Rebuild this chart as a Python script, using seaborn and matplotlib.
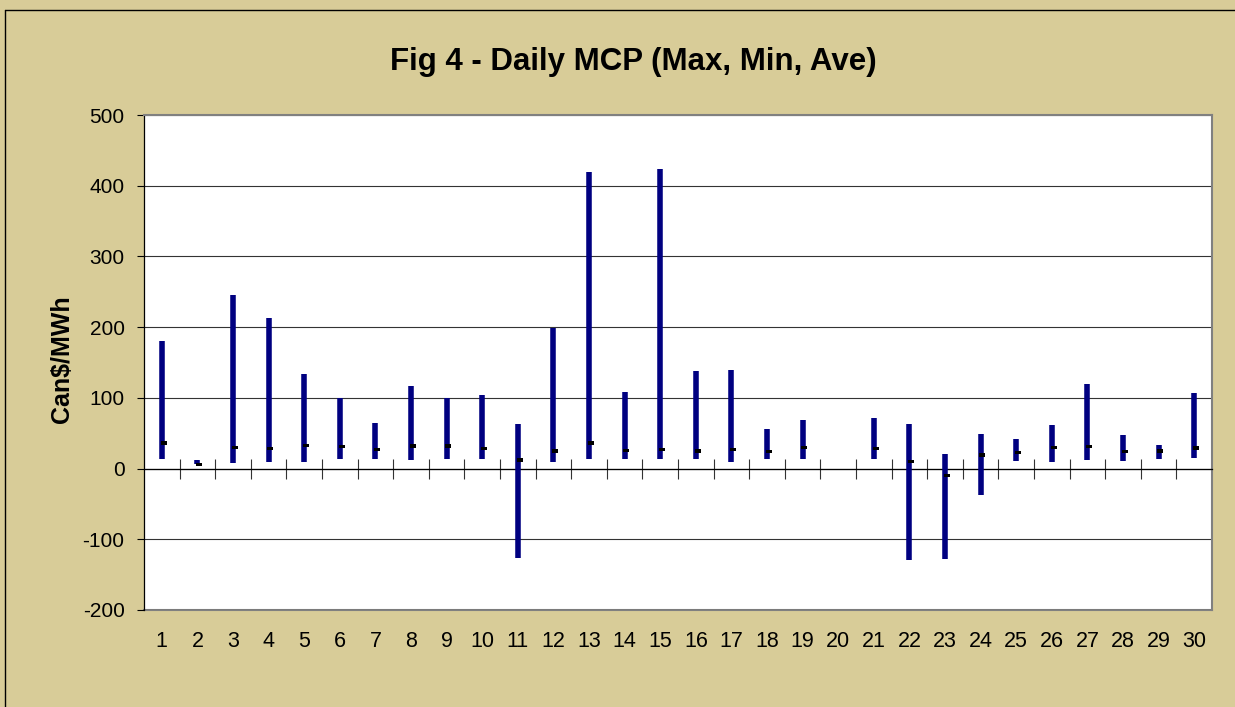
import numpy as np
import pandas as pd
import seaborn as sns
import matplotlib.pyplot as plt
from matplotlib.lines import Line2D

# daily market clearing price, Can$/MWh (day 20 has no data)
days = list(range(1, 31))
max_price = [180, 12, 245, 213, 134, 100, 65, 117, 100, 104, 63, 199, 419, 109, 424,
             138, 140, 56, 69, np.nan, 72, 63, 21, 49, 42, 61, 119, 48, 33, 107]
min_price = [14, 7, 8, 10, 10, 14, 14, 12, 14, 13, -127, 10, 13, 14, 14,
             14, 10, 14, 14, np.nan, 13, -129, -128, -37, 11, 10, 12, 11, 14, 15]
ave_price = [36, 6, 30, 28, 33, 31, 27, 32, 32, 28, 12, 25, 36, 26, 27,
             25, 27, 24, 30, np.nan, 28, 10, -10, 19, 23, 30, 31, 24, 25, 29]
y_ticks = [-200, -100, 0, 100, 200, 300, 400, 500]

df = pd.DataFrame({'day': days, 'max': max_price, 'min': min_price, 'ave': ave_price})

sns.set_theme(style='white', rc={'axes.unicode_minus': False, 'text.color': 'black',
                                 'xtick.color': 'black', 'ytick.color': 'black',
                                 'axes.labelcolor': 'black'})
plt.rcParams['font.family'] = ['Liberation Sans', 'DejaVu Sans']

bg = '#D8CC98'
fig = plt.figure(figsize=(12.35, 7.07), dpi=100, facecolor=bg)
ax = fig.add_axes([0.1166, 0.1372, 0.8648, 0.7001])
ax.set_facecolor('white')

# max-min range bars
ax.vlines(df['day'], df['min'], df['max'], color='#000080', linewidth=4.0, zorder=3)

# average tick, drawn a little to the right of the bar
ave_marker = [(-0.86, -1.2), (3.46, -1.2), (3.46, 1.2), (-0.86, 1.2)]
sns.scatterplot(data=df, x='day', y='ave', marker=ave_marker, s=48, color='black',
                edgecolor='none', linewidth=0, ax=ax, zorder=4, legend=False)

ax.set_xlim(0.5, 30.5)
ax.set_ylim(-200, 500)
ax.set_yticks(y_ticks)
ax.yaxis.grid(True, color='#333333', linewidth=0.8)
ax.set_axisbelow(True)
ax.tick_params(axis='y', direction='out', length=5, width=0.8, color='black',
               labelcolor='black', labelsize=15, pad=9, left=True)
ax.set_ylabel('')
ax.set_xlabel('')

# x axis line through zero with crossing ticks between days
ax.spines['bottom'].set_position(('data', 0))
ax.spines['bottom'].set_color('black')
ax.spines['bottom'].set_linewidth(0.9)
ax.set_xticks(np.arange(1.5, 30.5, 1.0))
ax.set_xticklabels([])
ax.tick_params(axis='x', direction='inout', length=14, width=0.8, color='#333333', bottom=True)

ax.spines['left'].set_color('black')
ax.spines['left'].set_linewidth(0.9)
for s in ['top', 'right']:
    ax.spines[s].set_color('#808080')
    ax.spines[s].set_linewidth(1.5)

# day labels along the bottom edge of the plot area
sec = ax.secondary_xaxis(0)
sec.set_xticks(days)
sec.set_xticklabels([str(d) for d in days])
sec.tick_params(axis='x', length=0, labelsize=15.5, labelcolor='black', pad=15)
sec.spines['bottom'].set_color('#808080')
sec.spines['bottom'].set_linewidth(1.5)

fig.text(0.5126, 0.912, 'Fig 4 - Daily MCP (Max, Min, Ave)', ha='center', va='center',
         fontsize=22.5, fontweight='bold', color='black')
fig.text(0.050, 0.492, 'Can$/MWh', ha='center', va='center', rotation=90,
         fontsize=18, fontweight='bold', color='black')

# chart frame
fig.add_artist(Line2D([5 / 1235, 5 / 1235], [0, 1 - 10 / 707], color='black', linewidth=1.0,
                      transform=fig.transFigure))
fig.add_artist(Line2D([5 / 1235, 1], [1 - 10 / 707, 1 - 10 / 707], color='black', linewidth=1.0,
                      transform=fig.transFigure))

fig.savefig('out.png', dpi=100, facecolor=bg)
